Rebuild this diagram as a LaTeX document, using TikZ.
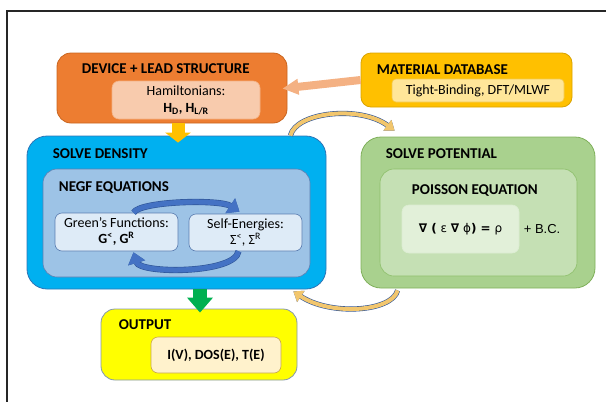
\documentclass[tikz,border=0pt]{standalone}
\usepackage{fontspec}
\setmainfont{Carlito}
\newfontfamily\eqfont{DejaVu Sans}
\newfontfamily\arialfont{Liberation Sans}
\usepackage{tikz}
\usetikzlibrary{positioning,arrows.meta,calc}
\usepackage{xcolor}
\definecolor{devorange}{HTML}{ED7D31}
\definecolor{devedge}{HTML}{C9651F}
\definecolor{hamfill}{HTML}{F8CBAD}
\definecolor{hamedge}{HTML}{F4B183}
\definecolor{peacharrow}{HTML}{F4B183}
\definecolor{matgold}{HTML}{FFC000}
\definecolor{matedge}{HTML}{D9A300}
\definecolor{matlight}{HTML}{FFE699}
\definecolor{matlightedge}{HTML}{F2C94C}
\definecolor{denblue}{HTML}{00B0F0}
\definecolor{denedge}{HTML}{2E75B6}
\definecolor{negfblue}{HTML}{9DC3E6}
\definecolor{negfedge}{HTML}{5B7DB1}
\definecolor{paleblue}{HTML}{DEEBF7}
\definecolor{potgreen}{HTML}{A9D18E}
\definecolor{potedge}{HTML}{7FB05A}
\definecolor{poisgreen}{HTML}{C5E0B4}
\definecolor{poisedge}{HTML}{8DBF6A}
\definecolor{eqgreen}{HTML}{E2F0D9}
\definecolor{outyellow}{HTML}{FFFF00}
\definecolor{outedge}{HTML}{8497B0}
\definecolor{cream}{HTML}{FFF2CC}
\definecolor{creamedge}{HTML}{C9A74A}
\definecolor{cyclblue}{HTML}{4472C4}
\definecolor{cycledge}{HTML}{2F5597}
\definecolor{loopgold}{HTML}{F2C66D}
\definecolor{arrowgreen}{HTML}{00B050}

\begin{document}
\begin{tikzpicture}[x=1pt, y=-1pt,
    box/.style={rectangle, draw, rounded corners=14pt, line width=0.8pt, inner sep=0pt},
    sub/.style={rectangle, draw, rounded corners=7pt, line width=0.6pt, align=center,
                inner sep=0pt, font=\fontsize{14}{16}\selectfont},
    head/.style={anchor=base west, inner sep=0pt, font=\bfseries\fontsize{15}{17}\selectfont},
    loop/.style={line width=4pt, loopgold, -{Triangle[length=9pt, width=13pt]},
                 preaction={draw=cycledge, line width=5.2pt, -{Triangle[length=9pt, width=13pt]}}},
    cycle/.style={line width=5pt, cyclblue, -{Triangle[length=11pt, width=17pt]},
                  preaction={draw=cycledge, line width=6.2pt, -{Triangle[length=11pt, width=17pt]}}},
]
\useasboundingbox (0,0) rectangle (606,402);
\draw[line width=2.2pt, black!85] (7,402) -- (7,11) -- (606,11);

% Outer blocks
\node[box, fill=devorange, draw=devedge, minimum width=230pt, minimum height=70pt] (dev) at (172,88) {};
\node[box, fill=matgold, draw=matedge, minimum width=211pt, minimum height=54pt, rounded corners=10pt] (mat) at (466.5,80) {};
\node[box, fill=denblue, draw=denedge, minimum width=299pt, minimum height=153pt, rounded corners=20pt] (den) at (176.5,212.5) {};
\node[box, fill=potgreen, draw=potedge, minimum width=234pt, minimum height=151pt, rounded corners=20pt] (pot) at (478,212.5) {};
\node[box, fill=outyellow, draw=outedge, minimum width=196pt, minimum height=71pt] (out) at (199,344.5) {};

% Inner blocks
\node[sub, fill=negfblue, draw=negfedge, minimum width=267pt, minimum height=108pt, rounded corners=14pt] (negf) at (176.5,223) {};
\node[sub, fill=poisgreen, draw=poisedge, minimum width=197pt, minimum height=107pt, rounded corners=14pt] (pois) at (478.5,222.5) {};
\node[sub, fill=hamfill, draw=hamedge, minimum width=148pt, minimum height=38pt] (ham) at (186,100)
    {Hamiltonians:\\[1pt]\textbf{H\textsubscript{D}, H\textsubscript{L/R}}};
\node[sub, fill=matlight, draw=matlightedge, minimum width=172pt, minimum height=23pt, rounded corners=4pt] (tb) at (478,90.5)
    {Tight-Binding, DFT/MLWF};
\node[sub, fill=paleblue, draw=negfedge, minimum width=123pt, minimum height=38pt] (green) at (116.5,232)
    {Green’s Functions:\\\textbf{G\textsuperscript{<}, G\textsuperscript{R}}};
\node[sub, fill=paleblue, draw=negfedge, minimum width=113pt, minimum height=37pt] (self) at (245.5,232.5)
    {Self-Energies:\\Σ\textsuperscript{<}, Σ\textsuperscript{R}};
\node[sub, fill=eqgreen, draw=eqgreen!80!poisgreen, minimum width=117pt, minimum height=48pt, font=\eqfont\fontsize{12}{14}\selectfont] (eq) at (460.5,229)
    {\textbf{∇ (} ε \textbf{∇} ϕ\textbf{) =} ρ};
\node[font=\arialfont\fontsize{13}{15}\selectfont, right=1pt of eq] (bc) {+ B.C.};
\node[sub, fill=cream, draw=creamedge, minimum width=130pt, minimum height=36pt] (res) at (216,355)
    {\textbf{I(V), DOS(E), T(E)}};

% Titles
\node[head] (devtitle) at ($(dev.north west)+(25,21)$) {DEVICE + LEAD STRUCTURE};
\node[head] (mattitle) at ($(mat.north west)+(16,22)$) {MATERIAL DATABASE};
\node[head] (dentitle) at ($(den.north west)+(26,23)$) {SOLVE DENSITY};
\node[head] (negftitle) at ($(negf.north west)+(16,23)$) {NEGF EQUATIONS};
\node[head] (pottitle) at ($(pot.north west)+(25,22)$) {SOLVE POTENTIAL};
\node[head] (poistitle) at ($(pois.north west)+(32,26)$) {POISSON EQUATION};
\node[head] (outtitle) at ($(out.north west)+(18,21)$) {OUTPUT};

% Straight block arrows
\draw[line width=8pt, peacharrow, shorten >=-5pt, -{Triangle[length=16pt, width=15pt]}] (mat.west) -- (dev.east);
\draw[line width=13pt, matgold, shorten >=-7pt, -{Triangle[length=10pt, width=25pt]}]
    ([xshift=6pt]dev.south) -- ([xshift=6pt]dev.south |- den.north);
\draw[line width=14pt, arrowgreen, shorten >=-4pt, -{Triangle[length=15pt, width=25pt]}]
    ([xshift=23.5pt]den.south) -- ([xshift=23.5pt]den.south |- out.north);

% Self-consistent loop between density and potential
\draw[loop] ([xshift=-36pt]den.north east) .. controls (296,112) and (360,105) .. ([xshift=34pt, yshift=6pt]pot.north west);
\draw[loop] ([xshift=37pt, yshift=-2pt]pot.south west) .. controls (392,312) and (330,316) .. ([xshift=-33pt, yshift=-2pt]den.south east);

% NEGF cycle
\draw[cycle] ([xshift=17pt]green.north) .. controls (140,201) and (220,199) .. ([xshift=-6pt, yshift=2pt]self.north);
\draw[cycle] ([xshift=-7pt]self.south) .. controls (235,274) and (140,274) .. ([xshift=17pt, yshift=-1pt]green.south);

\end{tikzpicture}
\end{document}
